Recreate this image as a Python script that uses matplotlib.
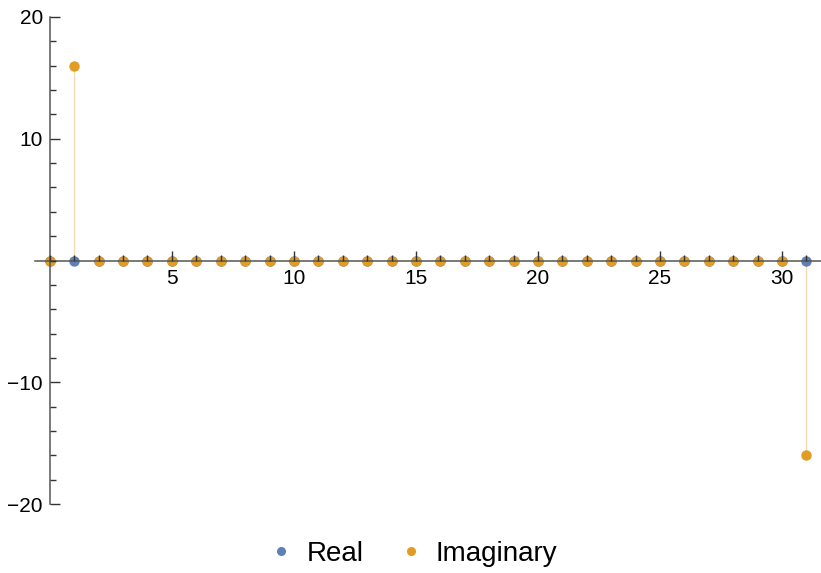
import matplotlib.pyplot as plt
import numpy as np
from matplotlib.ticker import MultipleLocator

plt.rcParams['font.family'] = ['Liberation Sans', 'DejaVu Sans']

n = np.arange(0, 32)
real_part = [0.0] * 32
imag_part = [0.0] * 32
imag_part[1] = 16.0
imag_part[31] = -16.0

blue = '#5e81b5'
orange = '#e19c24'

fig = plt.figure(figsize=(8.21, 5.73), dpi=100)
ax = fig.add_axes([35 / 821, 69 / 573, 786 / 821, 487 / 573])

# filling to axis
ax.vlines(n, 0, real_part, color=blue, alpha=0.35, lw=1, zorder=1)
ax.vlines(n, 0, imag_part, color=orange, alpha=0.35, lw=1, zorder=1)
ax.plot(n, real_part, 'o', color=blue, ms=6.5, label='Real', zorder=1.2)
ax.plot(n, imag_part, 'o', color=orange, ms=6.5, label='Imaginary', zorder=1.3)

ax.set_xlim(-0.61, 31.6)
ax.set_ylim(-20, 20)
ax.set_axisbelow(False)

for s in ['top', 'right']:
    ax.spines[s].set_visible(False)
ax.spines['left'].set_position(('data', 0))
ax.spines['bottom'].set_position(('data', 0))
for s in ['left', 'bottom']:
    ax.spines[s].set_color('#555555')
    ax.spines[s].set_linewidth(1.1)

ax.xaxis.set_minor_locator(MultipleLocator(1))
ax.yaxis.set_minor_locator(MultipleLocator(2))
ax.set_xticks([5, 10, 15, 20, 25, 30])
ax.set_yticks([-20, -10, 10, 20])
ax.set_yticklabels(['\u221220', '\u221210', '10', '20'])

ax.tick_params(which='both', direction='in', colors='#333333', labelcolor='black', labelsize=15)
ax.tick_params(axis='x', which='major', length=7, width=1, pad=6)
ax.tick_params(axis='x', which='minor', length=4, width=1)
ax.tick_params(axis='y', which='major', length=7, width=1, pad=5)
ax.tick_params(axis='y', which='minor', length=4, width=1)

h1 = plt.Line2D([], [], marker='o', ls='none', color=blue, ms=5.5)
h2 = plt.Line2D([], [], marker='o', ls='none', color=orange, ms=5.5)
fig.legend([h1, h2], ['Real', 'Imaginary'], loc='lower center', ncol=2, frameon=False,
           fontsize=20, handlelength=0.8, handletextpad=0.5, columnspacing=1.3,
           bbox_to_anchor=(0.504, -0.033))

fig.savefig('out.png', dpi=100)
